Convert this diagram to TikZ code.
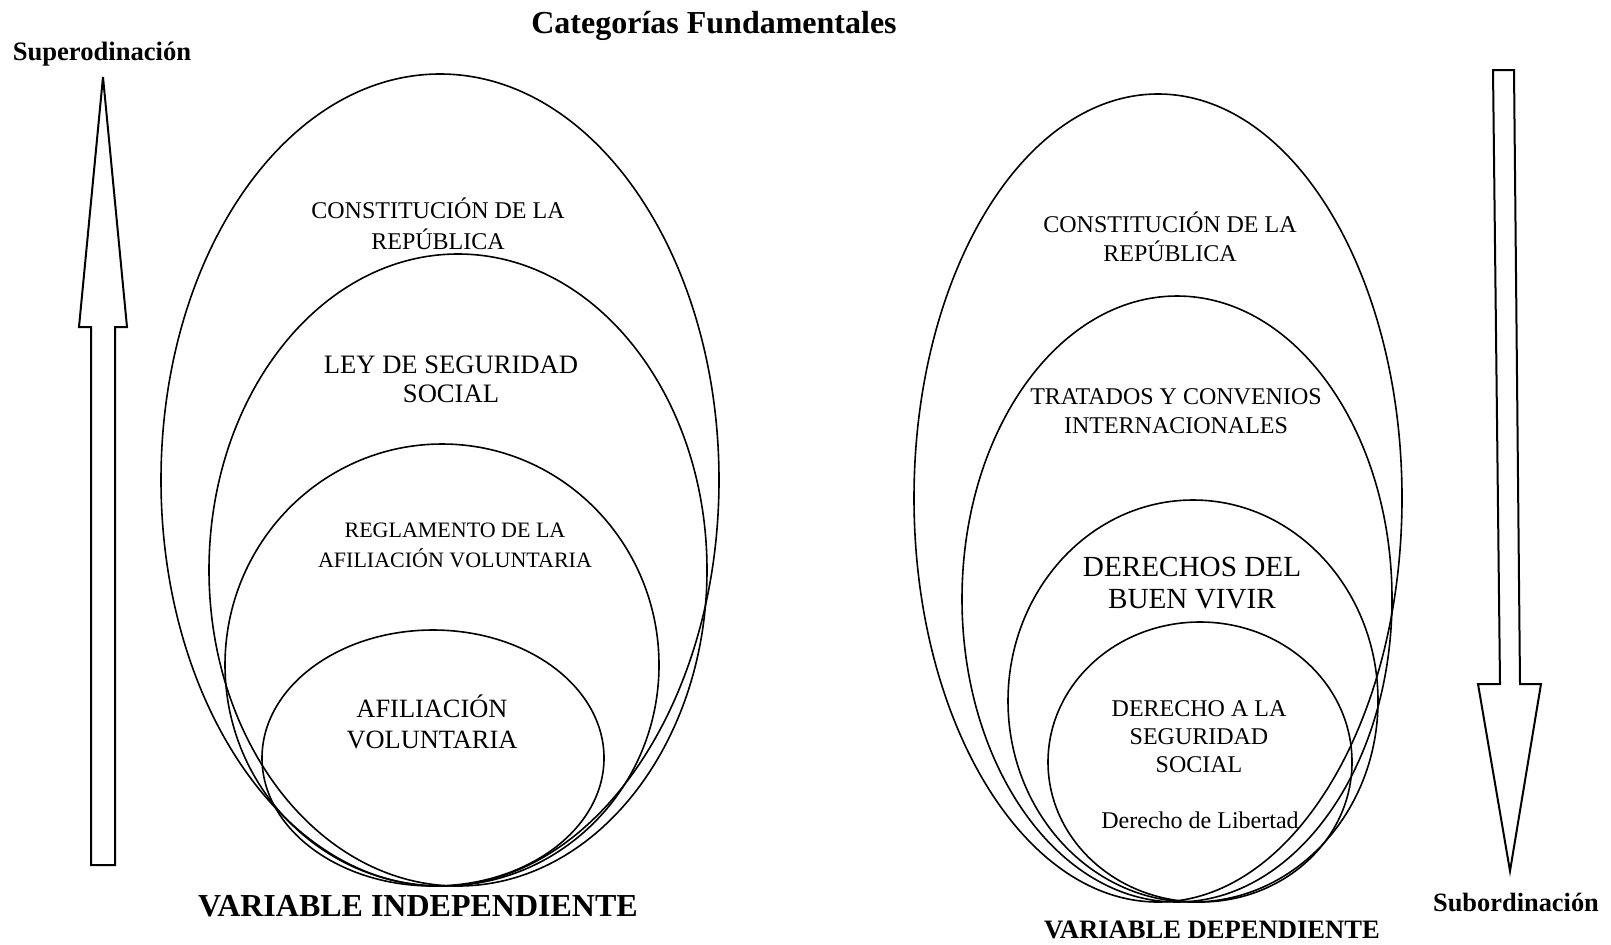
\documentclass[tikz,border=0pt]{standalone}
\usepackage{fontspec}
\setmainfont{Liberation Serif}
\usetikzlibrary{positioning}

\begin{document}
\begin{tikzpicture}[
		x=0.5pt, y=-0.5pt,
		ring/.style={line width=0.8pt},
		hollow/.style={line width=1pt, line join=miter, fill=white},
		txt/.style={align=center, inner sep=0pt},
		hdr/.style={inner sep=0pt, font=\bfseries},
	]
		\useasboundingbox (0,0) rectangle (1611,944);

		% independent variable
		\draw[ring] (440,480) ellipse [x radius=279, y radius=406];
		\draw[ring] (458,570) ellipse [x radius=249, y radius=316];
		\draw[ring] (442,665) ellipse [x radius=217, y radius=221];
		\draw[ring] (433,758) ellipse [x radius=171, y radius=128];

		\node[txt, font=\fontsize{12}{15.4}\selectfont] (constA) at (438,224) {CONSTITUCIÓN DE LA\\REPÚBLICA};
		\node[txt, font=\fontsize{13.3}{14.6}\selectfont] (ley) at (451,379) {LEY DE SEGURIDAD\\SOCIAL};
		\node[txt, font=\fontsize{11}{15}\selectfont] (regl) at (455,545) {REGLAMENTO DE LA\\AFILIACIÓN VOLUNTARIA};
		\node[txt, font=\fontsize{13.2}{15.5}\selectfont] (afil) at (432,722) {AFILIACIÓN\\VOLUNTARIA};

		% dependent variable
		\draw[ring] (1158,498) ellipse [x radius=244, y radius=404];
		\draw[ring] (1177,599) ellipse [x radius=215, y radius=303];
		\draw[ring] (1193,701) ellipse [x radius=185, y radius=201];
		\draw[ring] (1200,762) ellipse [x radius=152, y radius=140];

		\node[txt, font=\fontsize{12}{14.4}\selectfont] (constB) at (1170,237) {CONSTITUCIÓN DE LA\\REPÚBLICA};
		\node[txt, font=\fontsize{12}{14.4}\selectfont] (trat) at (1176,411) {TRATADOS Y CONVENIOS\\INTERNACIONALES};
		\node[txt, font=\fontsize{14.6}{16}\selectfont] (buen) at (1192,583) {DERECHOS DEL\\BUEN VIVIR};
		\node[txt, font=\fontsize{12}{14}\selectfont] (segur) at (1199,737) {DERECHO A LA\\SEGURIDAD\\SOCIAL};
		\node[txt, font=\fontsize{12}{14}\selectfont] (libert) at (1200,820) {Derecho de Libertad};

		% arrows
		\draw[hollow] (91,865) -- (91,327) -- (79,327) -- (103,77) -- (127,327)
			-- (115,327) -- (115,865) -- cycle;
		\draw[hollow] (1493,70) -- (1500,684) -- (1478,684) -- (1510,871) -- (1541,684)
			-- (1520,684) -- (1514,70) -- cycle;

		\node[hdr, font=\bfseries\fontsize{16}{18}\selectfont] (title) at (714,26) {Categorías Fundamentales};
		\node[hdr, font=\bfseries\fontsize{13.3}{15}\selectfont] (super) at (102,54) {Superodinación};
		\node[hdr, font=\bfseries\fontsize{13.2}{15}\selectfont] (sub) at (1516,902) {Subordinación};
		\node[hdr, font=\bfseries\fontsize{16}{18}\selectfont] (varind) at (418,906) {VARIABLE INDEPENDIENTE};
		\node[hdr, font=\bfseries\fontsize{13.3}{15}\selectfont] (vardep) at (1212,930) {VARIABLE DEPENDIENTE};
	\end{tikzpicture}
\end{document}
